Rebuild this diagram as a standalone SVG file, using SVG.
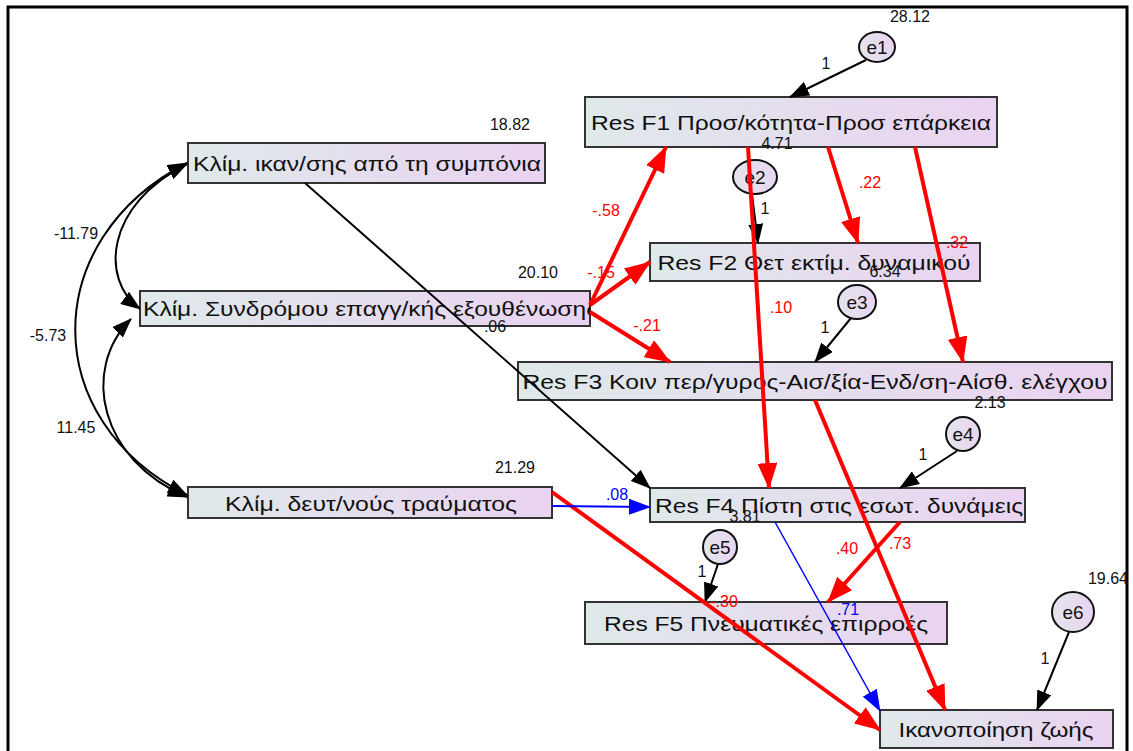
<svg xmlns="http://www.w3.org/2000/svg" width="1133" height="751" viewBox="0 0 1133 751">
<style>
.box{fill:url(#g);stroke:#333;stroke-width:2}
.el{fill:url(#ge);stroke:#111;stroke-width:2}
.nt{font-family:"Liberation Sans",Arial,sans-serif;font-size:21px;fill:#111;text-anchor:middle}
.et{font-family:"Liberation Sans",Arial,sans-serif;font-size:19px;fill:#111;text-anchor:middle}
.lb{font-family:"Liberation Sans",Arial,sans-serif;font-size:16px;fill:#111;text-anchor:middle}
.lr{font-family:"Liberation Sans",Arial,sans-serif;font-size:16px;fill:#f00;text-anchor:middle}
.lbl{font-family:"Liberation Sans",Arial,sans-serif;font-size:16px;fill:#00f;text-anchor:middle}
.k{stroke:#000;stroke-width:2;fill:none;marker-end:url(#ak)}
.r{stroke:#f00;stroke-width:4;fill:none;marker-end:url(#ar)}
.b{stroke:#00f;stroke-width:2;fill:none;marker-end:url(#ab)}
.cv{stroke:#000;stroke-width:2;fill:none;marker-start:url(#ak);marker-end:url(#ak)}
</style>
<defs>
<linearGradient id="g" x1="0" y1="0" x2="1" y2="0">
<stop offset="0" stop-color="#dfe9ea"/>
<stop offset="1" stop-color="#ead3f1"/>
</linearGradient>
<linearGradient id="ge" x1="0" y1="0" x2="1" y2="0">
<stop offset="0" stop-color="#e4e4ee"/>
<stop offset="1" stop-color="#e8d5f0"/>
</linearGradient>
<marker id="ak" viewBox="0 0 20 15" refX="19" refY="7.5" markerWidth="20" markerHeight="15" markerUnits="userSpaceOnUse" orient="auto-start-reverse"><path d="M0,0 L20,7.5 L0,15 z" fill="#000"/></marker>
<marker id="ar" viewBox="0 0 26 20" refX="25" refY="10" markerWidth="26" markerHeight="20" markerUnits="userSpaceOnUse" orient="auto"><path d="M0,0 L26,10 L0,20 z" fill="#f00"/></marker>
<marker id="ab" viewBox="0 0 22 16" refX="21" refY="8" markerWidth="22" markerHeight="16" markerUnits="userSpaceOnUse" orient="auto"><path d="M0,0 L22,8 L0,16 z" fill="#00f"/></marker>
<clipPath id="cs"><rect x="140" y="291" width="450" height="35"/></clipPath>
</defs>
<rect x="0" y="0" width="1133" height="751" fill="#fff"/>
<rect x="8" y="7" width="1119" height="770" fill="none" stroke="#000" stroke-width="3"/>

<g id="n_ikan">
<rect class="box" x="188" y="143" width="357" height="40"/>
<text class="nt" x="367" y="171" textLength="348" lengthAdjust="spacingAndGlyphs">Κλίμ. ικαν/σης από τη συμπόνια</text>
</g>
<g id="n_synd">
<rect class="box" x="140" y="291" width="450" height="35"/>
<text class="nt" x="143" y="316" style="text-anchor:start" textLength="455" lengthAdjust="spacingAndGlyphs" clip-path="url(#cs)">Κλίμ. Συνδρόμου επαγγ/κής εξουθένωσης</text>
</g>
<g id="n_deut">
<rect class="box" x="188" y="487" width="364" height="31"/>
<text class="nt" x="371" y="511" textLength="292" lengthAdjust="spacingAndGlyphs">Κλίμ. δευτ/νούς τραύματος</text>
</g>
<g id="n_f1">
<rect class="box" x="585" y="97" width="412" height="50"/>
<text class="nt" x="791" y="130" textLength="400" lengthAdjust="spacingAndGlyphs">Res F1 Προσ/κότητα-Προσ επάρκεια</text>
</g>
<g id="n_f2">
<rect class="box" x="650" y="243" width="330" height="38"/>
<text class="nt" x="814" y="270" textLength="313" lengthAdjust="spacingAndGlyphs">Res F2 Θετ εκτίμ. δυναμικού</text>
</g>
<g id="n_f3">
<rect class="box" x="518" y="362" width="594" height="38"/>
<text class="nt" x="815" y="389" textLength="585" lengthAdjust="spacingAndGlyphs">Res F3 Κοιν περ/γυρος-Αισ/ξία-Ενδ/ση-Αίσθ. ελέγχου</text>
</g>
<g id="n_f4">
<rect class="box" x="650" y="488" width="375" height="34"/>
<text class="nt" x="839" y="513" textLength="368" lengthAdjust="spacingAndGlyphs">Res F4 Πίστη στις εσωτ. δυνάμεις</text>
</g>
<g id="n_f5">
<rect class="box" x="585" y="602" width="362" height="42"/>
<text class="nt" x="766" y="631" textLength="324" lengthAdjust="spacingAndGlyphs">Res F5 Πνευματικές επιρροές</text>
</g>
<g id="n_sat">
<rect class="box" x="880" y="710" width="233" height="38"/>
<text class="nt" x="996" y="737" textLength="195" lengthAdjust="spacingAndGlyphs">Ικανοποίηση ζωής</text>
</g>
<g id="n_e1"><ellipse class="el" cx="877" cy="47" rx="18" ry="15"/><text class="et" x="877" y="54">e1</text></g>
<g id="n_e2"><ellipse class="el" cx="755" cy="177" rx="22" ry="17"/><text class="et" x="755" y="184">e2</text></g>
<g id="n_e3"><ellipse class="el" cx="857" cy="302" rx="19" ry="17"/><text class="et" x="857" y="309">e3</text></g>
<g id="n_e4"><ellipse class="el" cx="963" cy="434" rx="17" ry="17"/><text class="et" x="963" y="441">e4</text></g>
<g id="n_e5"><ellipse class="el" cx="720" cy="547" rx="17" ry="17"/><text class="et" x="720" y="554">e5</text></g>
<g id="n_e6"><ellipse class="el" cx="1073" cy="612" rx="21" ry="20"/><text class="et" x="1073" y="619">e6</text></g>

<g id="connectors">
<path class="cv" d="M140,309 C100,280 105,205 187,164"/>
<path class="cv" d="M187,163 C38,240 38,420 187,495"/>
<path class="cv" d="M131,319 C80,370 100,460 187,497"/>
<line class="k" x1="866" y1="60" x2="790" y2="97"/>
<line class="k" x1="752" y1="194" x2="758" y2="243"/>
<line class="k" x1="851" y1="318" x2="815" y2="362"/>
<line class="k" x1="957" y1="451" x2="900" y2="488"/>
<line class="k" x1="718" y1="564" x2="705" y2="602"/>
<line class="k" x1="1069" y1="632" x2="1037" y2="710"/>
<line class="k" x1="305" y1="183" x2="650" y2="488"/>
<line class="r" x1="748" y1="147" x2="769" y2="488"/>
<line class="r" x1="828" y1="147" x2="858" y2="243"/>
<line class="r" x1="915" y1="147" x2="963" y2="362"/>
<line class="r" x1="590" y1="305" x2="666" y2="147"/>
<line class="r" x1="590" y1="305" x2="650" y2="262"/>
<line class="r" x1="590" y1="312" x2="670" y2="362"/>
<line class="r" x1="815" y1="400" x2="945" y2="710"/>
<line class="r" x1="900" y1="522" x2="828" y2="602"/>
<line class="r" x1="552" y1="492" x2="880" y2="730"/>
<line class="b" x1="552" y1="506" x2="650" y2="507"/>
<line x1="775" y1="522" x2="880" y2="711" stroke="#00f" stroke-width="1.5" marker-end="url(#ab)"/>
</g>

<g id="labels">
<text class="lb" x="910" y="22">28.12</text>
<text class="lb" x="826" y="69">1</text>
<text class="lb" x="510" y="130">18.82</text>
<text class="lb" x="777" y="149">4.71</text>
<text class="lb" x="765" y="214">1</text>
<text class="lb" x="538" y="278">20.10</text>
<text class="lb" x="885" y="277">6.34</text>
<text class="lb" x="825" y="333">1</text>
<text class="lb" x="495" y="332">.06</text>
<text class="lb" x="990" y="408">2.13</text>
<text class="lb" x="923" y="460">1</text>
<text class="lb" x="515" y="473">21.29</text>
<text class="lb" x="745" y="522">3.81</text>
<text class="lb" x="702" y="577">1</text>
<text class="lb" x="1108" y="584">19.64</text>
<text class="lb" x="1045" y="664">1</text>
<text class="lb" x="76" y="239">-11.79</text>
<text class="lb" x="48" y="341">-5.73</text>
<text class="lb" x="76" y="433">11.45</text>
<text class="lr" x="606" y="216">-.58</text>
<text class="lr" x="601" y="278">-.15</text>
<text class="lr" x="647" y="331">-.21</text>
<text class="lr" x="870" y="188">.22</text>
<text class="lr" x="957" y="248">.32</text>
<text class="lr" x="781" y="313">.10</text>
<text class="lr" x="900" y="549">.73</text>
<text class="lr" x="847" y="554">.40</text>
<text class="lr" x="724" y="607">-.30</text>
<text class="lbl" x="617" y="500">.08</text>
<text class="lbl" x="848" y="615">.71</text>
</g>
</svg>
